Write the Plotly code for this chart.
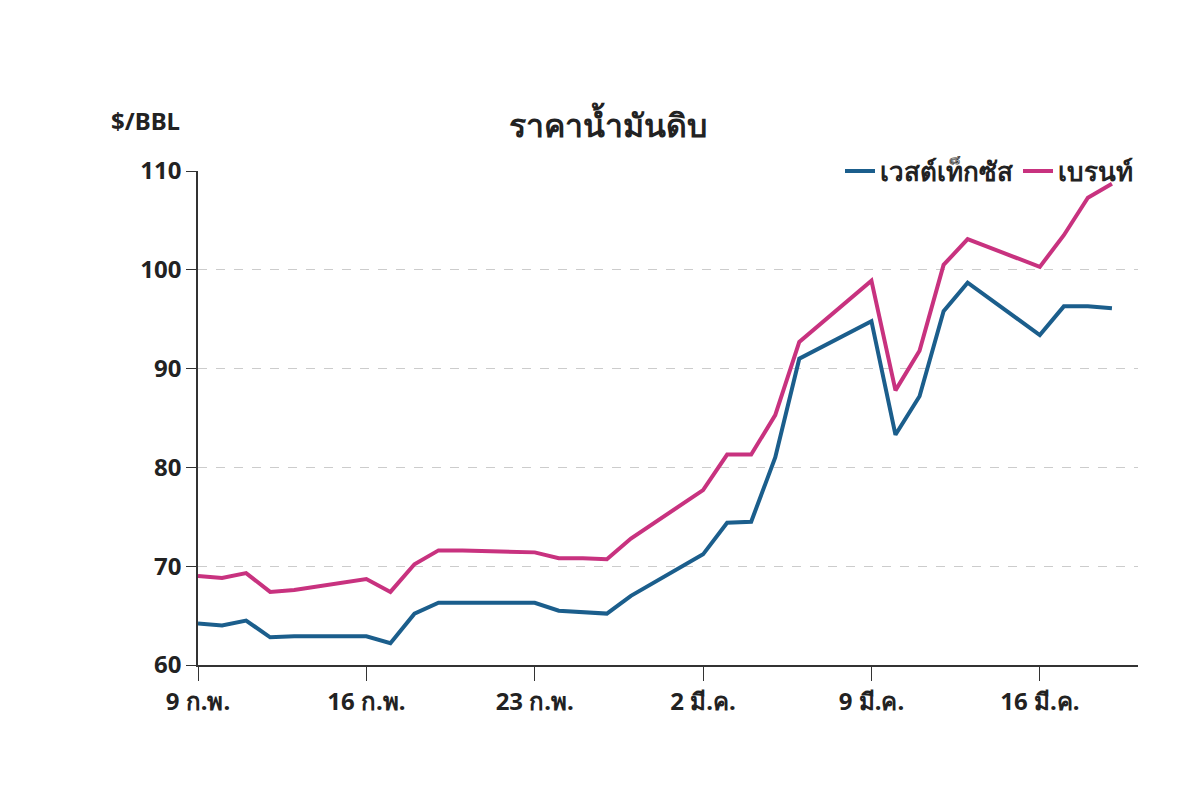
import plotly.graph_objects as go

dates = ["2026-02-09", "2026-02-10", "2026-02-11", "2026-02-12", "2026-02-13",
         "2026-02-16", "2026-02-17", "2026-02-18", "2026-02-19", "2026-02-20",
         "2026-02-23", "2026-02-24", "2026-02-25", "2026-02-26", "2026-02-27",
         "2026-03-02", "2026-03-03", "2026-03-04", "2026-03-05", "2026-03-06",
         "2026-03-09", "2026-03-10", "2026-03-11", "2026-03-12", "2026-03-13",
         "2026-03-16", "2026-03-17", "2026-03-18", "2026-03-19"]
wti = [64.2, 64.0, 64.5, 62.8, 62.9, 62.9, 62.2, 65.2, 66.3, 66.3,
       66.3, 65.5, 65.3, 65.2, 67.0, 71.2, 74.4, 74.5, 81.0, 91.0,
       94.8, 83.3, 87.2, 95.8, 98.7, 93.4, 96.3, 96.3, 96.1]
brent = [69.0, 68.8, 69.3, 67.4, 67.6, 68.7, 67.4, 70.2, 71.6, 71.6,
         71.4, 70.8, 70.8, 70.7, 72.8, 77.7, 81.3, 81.3, 85.3, 92.7,
         98.9, 87.8, 91.8, 100.5, 103.1, 100.3, 103.5, 107.3, 108.7]
tick_dates = ["2026-02-09", "2026-02-16", "2026-02-23", "2026-03-02", "2026-03-09", "2026-03-16"]
tick_labels = ["9 ก.พ.", "16 ก.พ.", "23 ก.พ.", "2 มี.ค.", "9 มี.ค.", "16 มี.ค."]

fig = go.Figure()
fig.add_trace(go.Scatter(x=dates, y=wti, mode="lines", name="<b>เวสต์เท็กซัส</b>",
                         line=dict(color="#1b5e8c", width=4)))
fig.add_trace(go.Scatter(x=dates, y=brent, mode="lines", name="<b>เบรนท์</b>",
                         line=dict(color="#c8327f", width=4)))

fig.update_layout(
    width=1200, height=790,
    paper_bgcolor="white", plot_bgcolor="white",
    font=dict(family="Noto Sans, Noto Sans CJK SC, sans-serif", size=24, color="#222"),
    title=dict(text="<b>ราคาน้ำมันดิบ</b>", x=0.5, xanchor="center", y=0.865,
               font=dict(size=32)),
    margin=dict(l=190, r=70, t=163, b=133),
    showlegend=True,
    legend=dict(orientation="h", x=1.0, xanchor="right", y=1.0, yanchor="middle",
                font=dict(size=26), bgcolor="rgba(255,255,255,0)"),
    xaxis=dict(range=["2026-02-09", "2026-03-20 02:00"], tickvals=tick_dates,
               ticktext=["<b>%s</b>" % t for t in tick_labels],
               showgrid=False, showline=True, linecolor="#333", linewidth=1.5,
               ticks="outside", ticklen=14, tickcolor="#333", zeroline=False),
    yaxis=dict(range=[60, 110], dtick=10, showgrid=True, gridcolor="#cccccc",
               griddash="dash", showline=True, linecolor="#333", linewidth=1.5,
               ticks="outside", ticklen=10, tickcolor="#333", zeroline=False,
               tickprefix="<b>", ticksuffix="</b>"),
    annotations=[dict(text="<b>$/BBL</b>", xref="paper", yref="paper", x=-0.095, y=1.065,
                      xanchor="left", yanchor="bottom", showarrow=False, font=dict(size=24))],
)

fig.write_html("out.html")
